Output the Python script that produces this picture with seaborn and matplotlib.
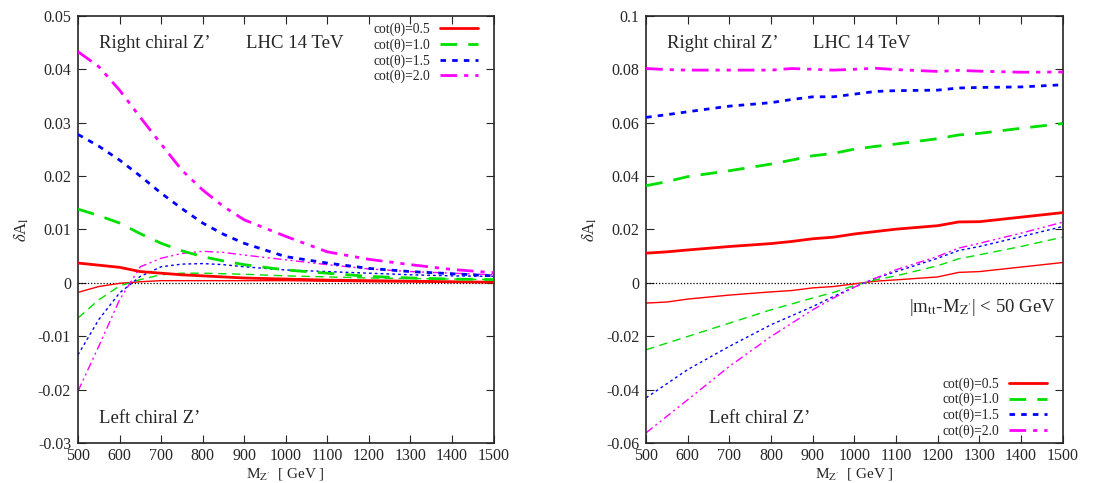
import matplotlib
matplotlib.use("Agg")
import matplotlib.pyplot as plt
import seaborn as sns
import numpy as np

# ---- data ----
mass_left = [500, 550, 600, 650, 700, 750, 800, 850, 900, 1000, 1100, 1200, 1300, 1400, 1500]
cot_labels = ["cot(θ)=0.5", "cot(θ)=1.0", "cot(θ)=1.5", "cot(θ)=2.0"]

# left panel, right chiral Z' (thick)
left_r_05 = [0.0037, 0.0033, 0.0029, 0.0021, 0.0018, 0.0015, 0.0013, 0.0011, 0.0009, 0.0007, 0.0005, 0.0004, 0.0003, 0.0002, 0.0001]
left_r_10 = [0.0138, 0.0126, 0.0112, 0.0092, 0.0074, 0.0060, 0.0049, 0.0041, 0.0034, 0.0024, 0.0018, 0.0012, 0.0009, 0.0007, 0.0006]
left_r_15 = [0.0278, 0.0256, 0.0230, 0.0200, 0.0168, 0.0139, 0.0112, 0.0091, 0.0074, 0.0049, 0.0037, 0.0027, 0.0021, 0.0017, 0.0013]
left_r_20 = [0.0433, 0.0405, 0.0361, 0.0310, 0.0260, 0.0211, 0.0174, 0.0143, 0.0118, 0.0087, 0.0058, 0.0044, 0.0034, 0.0025, 0.0019]
# left panel, left chiral Z' (thin)
left_l_05 = [-0.0018, -0.0007, -0.0001, 0.0002, 0.0004, 0.0004, 0.0004, 0.0004, 0.0004, 0.0004, 0.0003, 0.0002, 0.0002, 0.0001, 0.0001]
left_l_10 = [-0.0066, -0.0032, -0.0006, 0.0006, 0.0015, 0.0018, 0.0018, 0.0017, 0.0016, 0.0013, 0.0011, 0.0009, 0.0008, 0.0007, 0.0006]
left_l_15 = [-0.0135, -0.0069, -0.0019, 0.0012, 0.0030, 0.0035, 0.0036, 0.0034, 0.0030, 0.0024, 0.0021, 0.0018, 0.0015, 0.0013, 0.0012]
left_l_20 = [-0.0203, -0.0119, -0.0032, 0.0030, 0.0046, 0.0055, 0.0059, 0.0057, 0.0052, 0.0043, 0.0034, 0.0026, 0.0021, 0.0018, 0.0015]

mass_right = [500, 550, 600, 700, 800, 850, 900, 950, 1000, 1050, 1100, 1200, 1250, 1300, 1400, 1500]
# right panel (|m_tt - M_Z'| < 50 GeV), right chiral Z' (thick)
right_r_05 = [0.0111, 0.0116, 0.0123, 0.0136, 0.0147, 0.0155, 0.0165, 0.0171, 0.0183, 0.0192, 0.0201, 0.0214, 0.0228, 0.0229, 0.0246, 0.0263]
right_r_10 = [0.0364, 0.0379, 0.0398, 0.0420, 0.0445, 0.0460, 0.0476, 0.0485, 0.0501, 0.0511, 0.0520, 0.0540, 0.0554, 0.0560, 0.0579, 0.0597]
right_r_15 = [0.0620, 0.0630, 0.0641, 0.0662, 0.0675, 0.0687, 0.0697, 0.0697, 0.0707, 0.0717, 0.0720, 0.0722, 0.0730, 0.0732, 0.0734, 0.0742]
right_r_20 = [0.0803, 0.0799, 0.0797, 0.0797, 0.0797, 0.0803, 0.0800, 0.0797, 0.0800, 0.0804, 0.0799, 0.0792, 0.0796, 0.0793, 0.0789, 0.0790]
# right panel, left chiral Z' (thin)
right_l_05 = [-0.0076, -0.0072, -0.0061, -0.0046, -0.0034, -0.0029, -0.0019, -0.0014, -0.0004, 0.0006, 0.0011, 0.0022, 0.0039, 0.0042, 0.0059, 0.0076]
right_l_10 = [-0.0251, -0.0226, -0.0201, -0.0151, -0.0101, -0.0079, -0.0057, -0.0036, -0.0010, 0.0011, 0.0026, 0.0064, 0.0090, 0.0105, 0.0136, 0.0171]
right_l_15 = [-0.0431, -0.0378, -0.0325, -0.0238, -0.0157, -0.0123, -0.0089, -0.0051, -0.0016, 0.0017, 0.0042, 0.0092, 0.0121, 0.0136, 0.0173, 0.0211]
right_l_20 = [-0.0562, -0.0500, -0.0438, -0.0313, -0.0201, -0.0151, -0.0101, -0.0057, -0.0016, 0.0017, 0.0049, 0.0099, 0.0130, 0.0148, 0.0186, 0.0227]

colors = ["#ff0000", "#00e000", "#0000ff", "#ff00ff"]
dashes = ["-", (0, (6, 4)), (0, (2, 2.2)), (0, (6, 2.5, 1.5, 2.5, 1.5, 2.5))]

sns.set_style("ticks")
plt.rcParams["font.family"] = ["Liberation Serif", "DejaVu Serif"]
plt.rcParams["mathtext.fontset"] = "stix"

fig = plt.figure(figsize=(11.14, 4.83), dpi=100)
ax1 = fig.add_axes([0.070, 0.083, 0.373, 0.884])
ax2 = fig.add_axes([0.580, 0.083, 0.374, 0.884])


def draw_panel(ax, mass, thick, thin):
    ax.axhline(0, color="black", lw=0.9, ls=(0, (1, 1.5)), zorder=1)
    for i in range(4):
        sns.lineplot(x=mass, y=thick[i], ax=ax, color=colors[i], lw=2.0,
                     linestyle=dashes[i], label=cot_labels[i], zorder=3)
        sns.lineplot(x=mass, y=thin[i], ax=ax, color=colors[i], lw=1.0,
                     linestyle=dashes[i], zorder=2)
    ax.set_xlim(500, 1500)
    ax.set_xticks(np.arange(500, 1501, 100))
    ax.tick_params(direction="in", top=True, right=True, length=6, width=0.8,
                   labelsize=11.5, pad=5)
    ax.tick_params(axis="x", pad=4)
    for s in ax.spines.values():
        s.set_linewidth(1.2)
    ax.set_xlabel(r"M$_{\mathrm{Z}^{\prime}}$  [ GeV ]", fontsize=11, labelpad=1)
    ax.set_ylabel(r"$\delta$A$_{\rm l}$", fontsize=12, labelpad=5)


def add_legend(ax, loc, anchor):
    ax.legend(loc=loc, bbox_to_anchor=anchor, frameon=False, markerfirst=False,
              fontsize=9.8, handlelength=2.8, labelspacing=0.16, borderaxespad=0,
              borderpad=0, handletextpad=0.7)


draw_panel(ax1, mass_left, [left_r_05, left_r_10, left_r_15, left_r_20],
           [left_l_05, left_l_10, left_l_15, left_l_20])
ax1.set_ylim(-0.03, 0.05)
ax1.set_yticks([-0.03, -0.02, -0.01, 0, 0.01, 0.02, 0.03, 0.04, 0.05])
ax1.set_yticklabels(["-0.03", "-0.02", "-0.01", "0", "0.01", "0.02", "0.03", "0.04", "0.05"])
add_legend(ax1, "upper right", (0.962, 0.984))
ax1.text(0.05, 0.935, "Right chiral Z’", transform=ax1.transAxes, fontsize=13.5, va="center")
ax1.text(0.405, 0.935, "LHC 14 TeV", transform=ax1.transAxes, fontsize=13.5, va="center")
ax1.text(0.05, 0.058, "Left chiral Z’", transform=ax1.transAxes, fontsize=13.5, va="center")

draw_panel(ax2, mass_right, [right_r_05, right_r_10, right_r_15, right_r_20],
           [right_l_05, right_l_10, right_l_15, right_l_20])
ax2.set_ylim(-0.06, 0.1)
ax2.set_yticks([-0.06, -0.04, -0.02, 0, 0.02, 0.04, 0.06, 0.08, 0.1])
ax2.set_yticklabels(["-0.06", "-0.04", "-0.02", "0", "0.02", "0.04", "0.06", "0.08", "0.1"])
add_legend(ax2, "lower right", (0.962, 0.012))
ax2.text(0.05, 0.935, "Right chiral Z’", transform=ax2.transAxes, fontsize=13.5, va="center")
ax2.text(0.40, 0.935, "LHC 14 TeV", transform=ax2.transAxes, fontsize=13.5, va="center")
ax2.text(0.15, 0.058, "Left chiral Z’", transform=ax2.transAxes, fontsize=13.5, va="center")
ax2.text(0.63, 0.317, r"|m$_{\rm tt}$-M$_{\mathrm{Z}^{\prime}}$| < 50 GeV", transform=ax2.transAxes,
         fontsize=13.5, va="center")

fig.savefig("out.png", dpi=100)
